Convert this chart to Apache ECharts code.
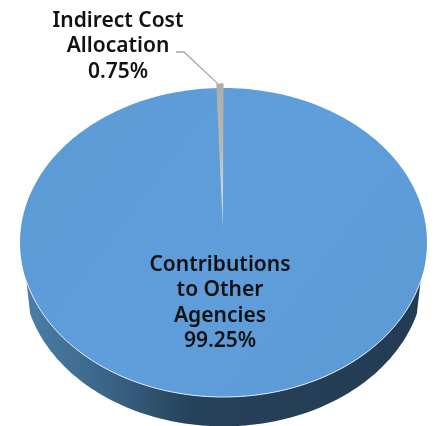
<!DOCTYPE html>
<html><head><meta charset="utf-8">
<style>html,body{margin:0;padding:0;background:#fff}#c{width:435px;height:426px}</style>
<script src="https://cdn.jsdelivr.net/npm/echarts@6/dist/echarts.min.js"></script>
</head><body><div id="c"></div>
<script>
const categories = ["Indirect Cost\nAllocation", "Contributions\nto Other\nAgencies"];
const shares = [0.75, 99.25];

const FONT = '"Noto Sans", sans-serif';
const LABEL_FONT = '600 21px ' + FONT;
const apexY = 0.085;
const chart = echarts.init(document.getElementById('c'), null, {renderer: 'canvas'});

function arc(api, cy, rx, ry, a0, a1, steps) {
  const pts = [];
  for (let i = 0; i <= steps; i++) {
    const a = a0 + (a1 - a0) * i / steps;
    pts.push(api.coord([rx * Math.sin(a), cy + ry * Math.cos(a)]));
  }
  return pts;
}
const sweep = v => v / shares.reduce((s, x) => s + x, 0) * Math.PI * 2;

chart.setOption({
  animation: false,
  backgroundColor: '#fff',
  grid: {left: 20, width: 407, top: 88, height: 309},
  xAxis: {type: 'value', min: -1, max: 1, show: false},
  yAxis: {type: 'value', min: -1, max: 1, show: false},
  series: [{
    type: 'custom',
    coordinateSystem: 'cartesian2d',
    data: shares.map((v, i) => [i, v]),
    clip: false,
    encode: {x: 0, y: 1},
    renderItem(params, api) {
      const i = params.dataIndex;
      const v = api.value(1);
      const s = sweep(shares[0]);
      if (i === 1) {
        const wall = arc(api, -0.2, 0.985, 0.99, Math.PI * 0.585, Math.PI * 1.415, 120)
          .concat(arc(api, 0, 1, 1, Math.PI * 1.42, Math.PI * 0.58, 120));
        const top = arc(api, 0, 1, 1, 0, Math.PI * 2, 240);
        return {type: 'group', children: [
          {type: 'polygon', z2: 1, shape: {points: wall}, style: {
            fill: new echarts.graphic.LinearGradient(0, 0, 1, 0, [
              {offset: 0, color: '#4c7ea6'}, {offset: 0.2, color: '#3b6587'},
              {offset: 0.42, color: '#26415a'}, {offset: 1, color: '#233c53'}])}},
          {type: 'polygon', z2: 2, shape: {points: top}, style: {
            fill: new echarts.graphic.LinearGradient(0, 0, 1, 1, [
              {offset: 0, color: '#5b9ad4'}, {offset: 0.5, color: '#5f9edb'}, {offset: 1, color: '#5b9ad4'}])}},
          {type: 'polyline', z2: 3, shape: {points: arc(api, 0, 1, 1, Math.PI * 0.58, Math.PI * 1.42, 120)},
            style: {fill: null, stroke: '#dbe8f4', lineWidth: 1}},
          {type: 'text', z2: 6, x: 220, y: 303, style: {
            text: categories[1] + '\n' + v.toFixed(2) + '%', font: LABEL_FONT,
            fill: '#111', align: 'center', verticalAlign: 'middle', lineHeight: 25.5}}
        ]};
      }
      const tip = arc(api, 0.03, 0.75, 1, -s, 0, 6).concat([api.coord([-0.003, apexY])]);
      const lead = api.coord([-0.03, 1.03]);
      return {type: 'group', children: [
        {type: 'polygon', z2: 5, shape: {points: tip}, style: {
          fill: new echarts.graphic.LinearGradient(0, 0, 0, 1, [
            {offset: 0, color: '#adadad'}, {offset: 0.45, color: '#b9b9b5'},
            {offset: 0.7, color: '#cdd3d6'}, {offset: 1, color: '#b8d4ee'}])}},
        {type: 'polyline', z2: 5, shape: {points: [[176, 52], [184, 52], lead]}, style: {fill: null, stroke: '#a6a6a6', lineWidth: 1.3}},
        {type: 'text', z2: 6, x: 118, y: 46.5, style: {
          text: categories[0] + '\n' + v.toFixed(2) + '%', font: LABEL_FONT,
          fill: '#111', align: 'center', verticalAlign: 'middle', lineHeight: 25.5}}
      ]};
    }
  }]
});
</script></body></html>
